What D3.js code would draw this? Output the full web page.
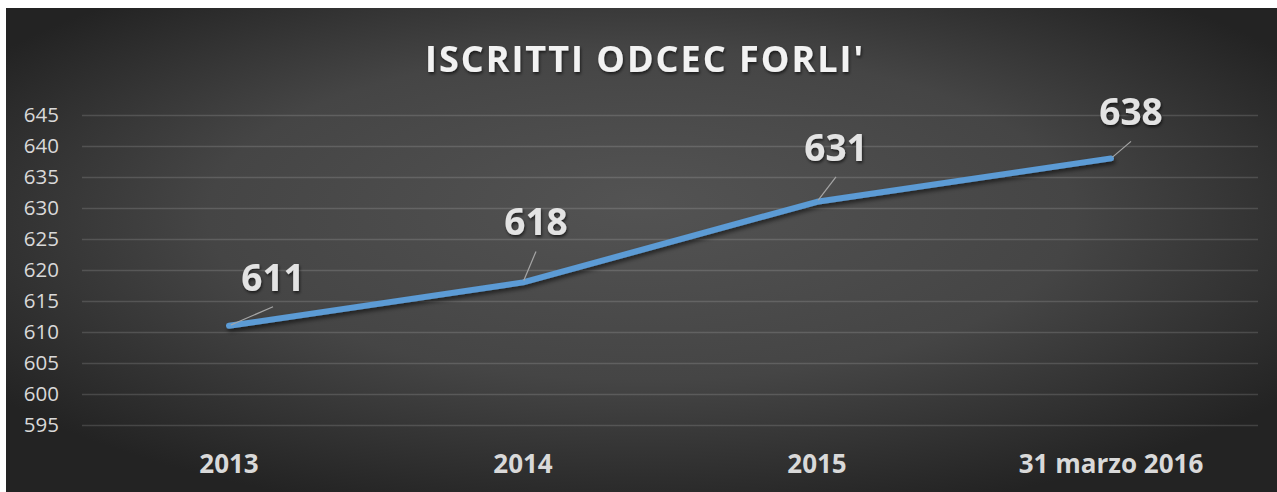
<!DOCTYPE html>
<html><head><meta charset="utf-8">
<script src="https://cdn.jsdelivr.net/npm/d3@7"></script>
<style>html,body{margin:0;padding:0;background:#fff;overflow:hidden}svg{display:block}</style>
</head><body>
<svg id="c" width="1277" height="492"></svg>
<script>
const title = "ISCRITTI ODCEC FORLI'";
const categories = ["2013", "2014", "2015", "31 marzo 2016"];
const iscritti = [611, 618, 631, 638];
const yTicks = [595, 600, 605, 610, 615, 620, 625, 630, 635, 640, 645];

// label placement nudges (style, not data)
const labelNudge = [[44, -35], [13, -47], [19, -41], [20, -33]];

const W = 1277, H = 492;
const svg = d3.select("#c");
const defs = svg.append("defs");
const rg = defs.append("radialGradient").attr("id", "bg")
  .attr("cx", "50%").attr("cy", "45%").attr("r", "62%")
  .attr("fx", "50%").attr("fy", "40%");
rg.append("stop").attr("offset", "0%").attr("stop-color", "#535353");
rg.append("stop").attr("offset", "55%").attr("stop-color", "#454545");
rg.append("stop").attr("offset", "100%").attr("stop-color", "#232323");

const sh = defs.append("filter").attr("id", "sh").attr("x", "-10%").attr("y", "-30%").attr("width", "120%").attr("height", "160%");
sh.append("feDropShadow").attr("dx", 1.5).attr("dy", 3).attr("stdDeviation", 2).attr("flood-color", "#000").attr("flood-opacity", 0.55);
const tsh = defs.append("filter").attr("id", "tsh").attr("x", "-10%").attr("y", "-30%").attr("width", "120%").attr("height", "160%");
tsh.append("feDropShadow").attr("dx", 1).attr("dy", 2).attr("stdDeviation", 1.5).attr("flood-color", "#000").attr("flood-opacity", 0.6);

svg.append("rect").attr("x", 6).attr("y", 8).attr("width", W - 6).attr("height", H - 8).attr("fill", "url(#bg)");

const x = d3.scaleBand().domain(categories).range([82, 1258]).padding(0);
const y = d3.scaleLinear().domain([595, 645]).range([425, 115]);

// gridlines
const gAxis = svg.append("g").attr("transform", "translate(82,0)")
  .call(d3.axisLeft(y).tickValues(yTicks).tickSize(-1176).tickPadding(23).tickFormat(d3.format("d")));
gAxis.select(".domain").remove();
gAxis.selectAll(".tick line").attr("stroke", "rgba(255,255,255,0.14)").attr("stroke-width", 1.4);
gAxis.selectAll(".tick text").attr("fill", "#d9d9d9").attr("font-family", "'Open Sans', sans-serif").attr("font-size", 20.5);

// x axis labels
const xAxis = svg.append("g").attr("transform", "translate(0,425)")
  .call(d3.axisBottom(x).tickSize(0).tickPadding(0));
xAxis.select(".domain").remove();
xAxis.selectAll(".tick text").attr("fill", "#d9d9d9").attr("font-family", "'Open Sans', sans-serif")
  .attr("font-size", 26).attr("font-weight", "bold").attr("dy", null).attr("y", 48);

// title
svg.append("text").attr("x", 645).attr("y", 72).attr("text-anchor", "middle")
  .attr("font-family", "'Open Sans', sans-serif").attr("font-weight", "bold").attr("font-size", 36)
  .attr("letter-spacing", 2).attr("fill", "#f2f2f2").attr("filter", "url(#tsh)").text(title);

// line
const pts = categories.map((c, i) => ({c, v: iscritti[i], x: x(c) + x.bandwidth() / 2, y: y(iscritti[i])}));
svg.append("path").datum(pts)
  .attr("d", d3.line().x(d => d.x).y(d => d.y))
  .attr("fill", "none").attr("stroke", "#5b9bd5").attr("stroke-width", 6)
  .attr("stroke-linecap", "round").attr("stroke-linejoin", "round").attr("filter", "url(#sh)");

// data labels + leader lines
const lg = svg.append("g");
pts.forEach((d, i) => {
  const lx = d.x + labelNudge[i][0], ly = d.y + labelNudge[i][1];
  const ex = lx, ey = ly + 16;
  const dx = ex - d.x, dy = ey - d.y, len = Math.hypot(dx, dy);
  lg.append("line").attr("x1", d.x + dx / len * 2).attr("y1", d.y + dy / len * 2)
    .attr("x2", ex).attr("y2", ey).attr("stroke", "#a6a6a6").attr("stroke-width", 1.2);
  lg.append("text").attr("x", lx).attr("y", ly).attr("text-anchor", "middle")
    .attr("font-family", "'Open Sans', sans-serif").attr("font-weight", "bold").attr("font-size", 37)
    .attr("fill", "#e3e3e3").attr("filter", "url(#tsh)").text(d.v);
});
</script>
</body></html>
